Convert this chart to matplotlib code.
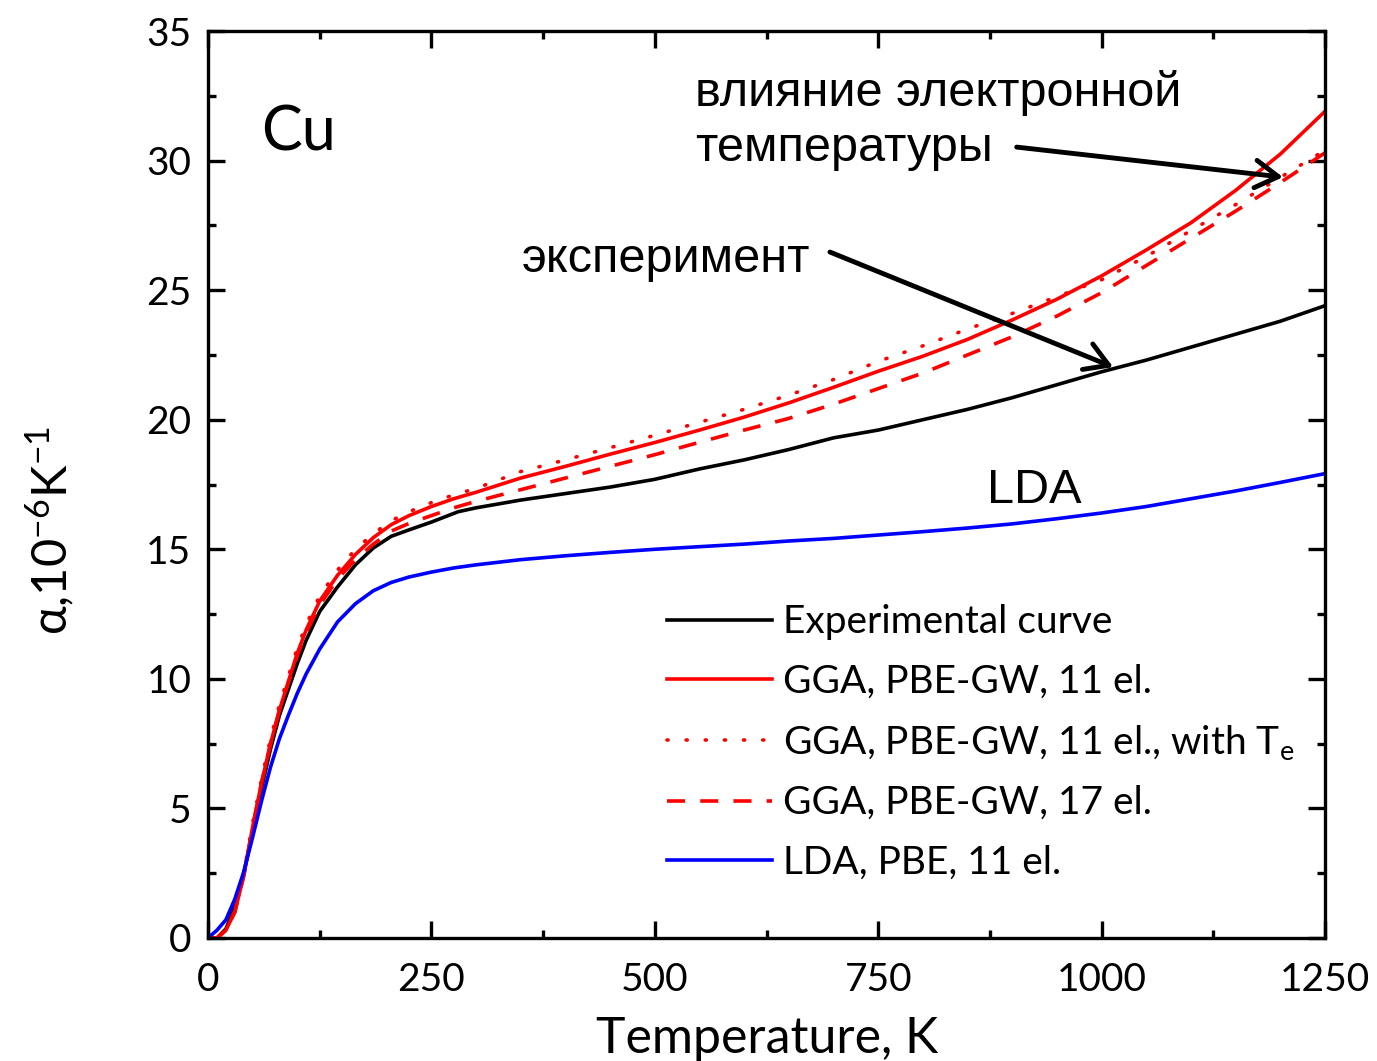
import matplotlib
matplotlib.use("Agg")
import matplotlib.pyplot as plt
from matplotlib.ticker import MultipleLocator

plt.rcParams["font.family"] = ["Lato", "DejaVu Sans"]
plt.rcParams["mathtext.fontset"] = "custom"
plt.rcParams["mathtext.rm"] = "Lato"
plt.rcParams["mathtext.it"] = "Lato:italic"

# thermal expansion of Cu, alpha in 1e-6 1/K
T_exp = [0, 10, 20, 30, 40, 50, 60, 70, 80, 90, 100, 110, 125, 145, 165, 185, 205,
         225, 250, 280, 300, 350, 400, 450, 500, 550, 600, 650, 700, 750, 800,
         850, 900, 950, 1000, 1050, 1100, 1150, 1200, 1250]
a_exp = [0, 0, 0.35, 1.2, 2.5, 4.1, 5.8, 7.3, 8.6, 9.6, 10.6, 11.5, 12.6, 13.55, 14.4,
         15.05, 15.5, 15.75, 16.05, 16.45, 16.6, 16.9, 17.15, 17.4, 17.7, 18.1, 18.45,
         18.85, 19.3, 19.6, 20.0, 20.4, 20.85, 21.35, 21.85, 22.3, 22.8, 23.3, 23.8, 24.4]

T_calc = [0, 10, 20, 30, 40, 50, 60, 70, 80, 90, 100, 110, 125, 145, 165, 185, 205,
          225, 250, 275, 300, 350, 400, 450, 500, 550, 600, 650, 700, 750, 800,
          850, 900, 950, 1000, 1050, 1100, 1150, 1200, 1250]
a_gga11 = [0, 0, 0.3, 1.0, 2.4, 4.3, 6.0, 7.5, 8.8, 9.9, 11.0, 11.9, 13.0, 14.0, 14.8,
           15.45, 15.95, 16.3, 16.65, 16.95, 17.2, 17.75, 18.2, 18.67, 19.12, 19.6,
           20.1, 20.65, 21.25, 21.87, 22.45, 23.1, 23.85, 24.65, 25.55, 26.55, 27.6,
           28.85, 30.25, 31.9]
a_gga11_te = [0, 0, 0.3, 1.05, 2.5, 4.45, 6.15, 7.7, 9.0, 10.1, 11.2, 12.1, 13.2, 14.2,
              15.0, 15.6, 16.1, 16.45, 16.8, 17.1, 17.35, 18.0, 18.45, 18.92, 19.4,
              19.9, 20.4, 20.95, 21.55, 22.25, 22.85, 23.5, 24.1, 24.75, 25.4, 26.3,
              27.3, 28.3, 29.35, 30.4]
a_gga17 = [0, 0, 0.3, 1.0, 2.4, 4.3, 6.0, 7.5, 8.8, 9.85, 10.9, 11.8, 12.85, 13.85,
           14.6, 15.2, 15.7, 16.0, 16.3, 16.6, 16.85, 17.3, 17.75, 18.2, 18.65, 19.13,
           19.6, 20.05, 20.6, 21.2, 21.8, 22.5, 23.2, 24.0, 24.9, 25.95, 27.0,
           28.05, 29.15, 30.3]
a_lda = [0, 0.3, 0.7, 1.5, 2.55, 3.9, 5.3, 6.6, 7.7, 8.6, 9.45, 10.2, 11.15, 12.2,
         12.9, 13.4, 13.72, 13.93, 14.12, 14.28, 14.4, 14.6, 14.75, 14.88, 15.0, 15.1,
         15.2, 15.32, 15.42, 15.55, 15.68, 15.82, 15.98, 16.18, 16.4, 16.65, 16.95,
         17.25, 17.58, 17.92]

labels = ["Experimental curve",
          "GGA, PBE-GW, 11 el.",
          "GGA, PBE-GW, 11 el., with T$_\\mathrm{e}$",
          "GGA, PBE-GW, 17 el.",
          "LDA, PBE, 11 el."]

fig = plt.figure(figsize=(13.77, 10.61), dpi=100)
ax = fig.add_axes([208 / 1377, 1 - 938 / 1061, 1117 / 1377, 907 / 1061])

lw = 2.6
ax.plot(T_exp, a_exp, color="black", lw=lw, label=labels[0])
ax.plot(T_calc, a_gga11, color="red", lw=lw, label=labels[1])
ax.plot(T_calc, a_gga11_te, color="red", lw=lw, linestyle=(0, (0.3, 5.0)),
        dash_capstyle="round", label=labels[2])
ax.plot(T_calc, a_gga17, color="red", lw=lw, linestyle=(0, (5.0, 4.2)), label=labels[3])
ax.plot(T_calc, a_lda, color="blue", lw=lw, label=labels[4])

ax.set_xlim(0, 1250)
ax.set_ylim(0, 35)
ax.xaxis.set_major_locator(MultipleLocator(250))
ax.xaxis.set_minor_locator(MultipleLocator(125))
ax.yaxis.set_major_locator(MultipleLocator(5))
ax.yaxis.set_minor_locator(MultipleLocator(2.5))
ax.tick_params(which="both", direction="in", top=True, right=True, width=2.4)
ax.tick_params(which="major", length=12, labelsize=28)
ax.tick_params(which="minor", length=6)
ax.tick_params(axis="x", pad=17)
ax.tick_params(axis="y", pad=12)
for sp in ax.spines.values():
    sp.set_linewidth(2.4)

fig.text(50 / 1377, 1 - 530 / 1061, r"$\mathrm{\alpha}$,10$^{-6}$K$^{-1}$",
         rotation=90, ha="center", va="center", fontsize=35)
fig.text(767 / 1377, 1 - 1053 / 1061, "Temperature, K", ha="center",
         va="baseline", fontsize=36)

ax.legend(loc="upper left", bbox_to_anchor=(0.411, 0.368), frameon=False,
          fontsize=28, handlelength=2.7, handletextpad=0.28, labelspacing=0.6,
          borderpad=0, borderaxespad=0)

ax.text(60, 30.4, "Cu", fontsize=44, ha="left", va="baseline")

ru = ["Liberation Sans", "DejaVu Sans"]
ax.text(545, 32.1, "влияние электронной", family=ru, fontsize=35, va="baseline")
ax.text(545, 30.0, "температуры", family=ru, fontsize=35, va="baseline")
ax.text(351, 25.7, "эксперимент", family=ru, fontsize=35, va="baseline")
ax.text(872, 16.78, "LDA", family=ru, fontsize=35, va="baseline")

arrow = dict(arrowstyle="->,head_length=0.55,head_width=0.33", lw=3.5,
             color="black", mutation_scale=30, shrinkA=0, shrinkB=0)
ax.annotate("", xy=(1203, 29.36), xytext=(905, 30.52), arrowprops=arrow)
ax.annotate("", xy=(1013, 22.03), xytext=(696, 26.47), arrowprops=arrow)

fig.savefig("out.png", dpi=100)
